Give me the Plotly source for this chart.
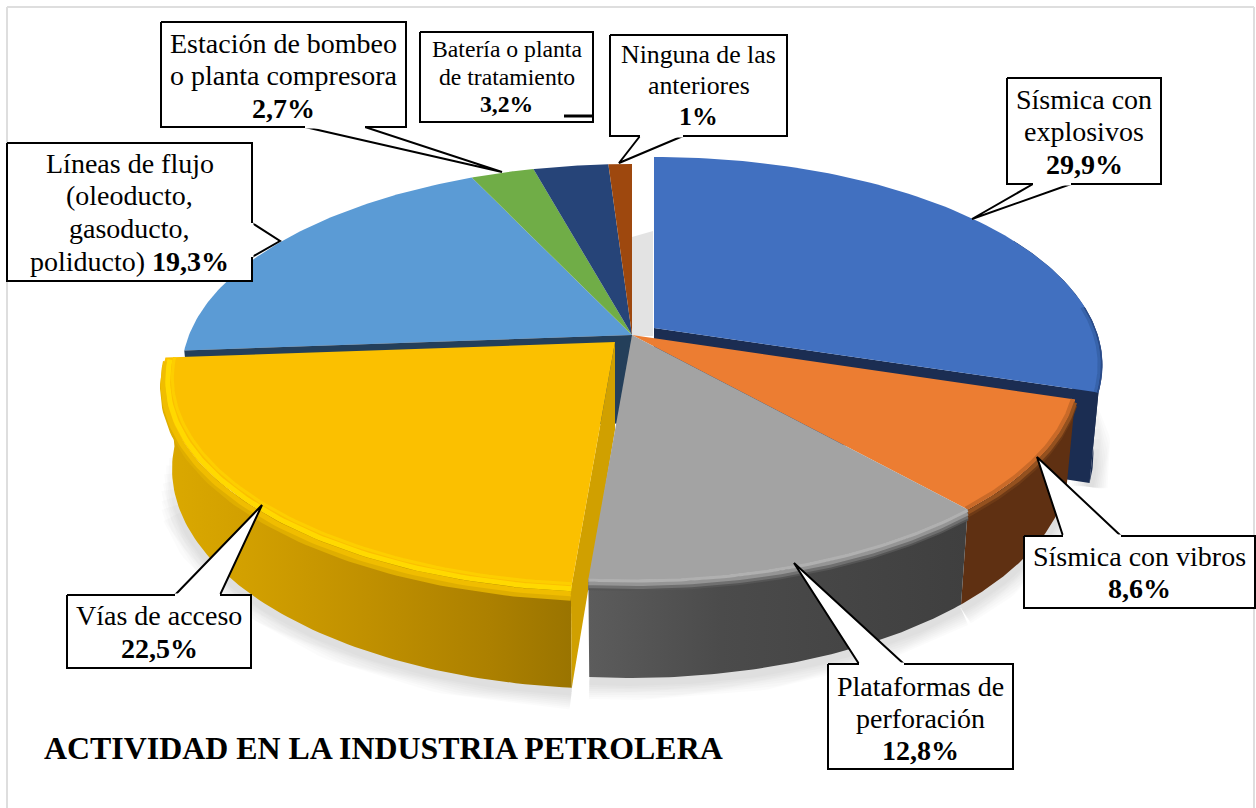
import numpy as np
import plotly.graph_objects as go

# ---- data ----
categories = ["Sísmica con explosivos", "Sísmica con vibros", "Plataformas de perforación",
              "Vías de acceso", "Líneas de flujo", "Estación de bombeo o planta compresora",
              "Batería o planta de tratamiento", "Ninguna de las anteriores"]
values = [29.9, 8.6, 12.8, 22.5, 19.3, 2.7, 3.2, 1.0]
value_labels = ["29,9%", "8,6%", "12,8%", "22,5%", "19,3%", "2,7%", "3,2%", "1%"]
title_text = "ACTIVIDAD EN LA INDUSTRIA PETROLERA"

# ---- styling / projection (not data) ----
top_colors = ["#4170c0", "#ec7d32", "#a3a3a3", "#fbc000", "#5b9bd5", "#70ad47", "#264478", "#9e480e"]
offsets = [(22, -7), (0, 0), (0, 0), (-17, 7), (0, 0), (0, 0), (0, 0), (0, 0)]
xscale = [0.996, 0.993, 0.993, 1.004, 1.0, 1.0, 1.0, 1.0]
yscale = [1.0, 1.0, 1.0, 1.015, 1.0, 1.0, 1.0, 1.0]
CX, CY = 632.0, 335.0
RX, RY, K = 443.0, 201.5, 0.178
FX, FY, DY = 0.98, 1.04, 88.0

fig = go.Figure()


def project(theta, i, radius=1.0):
    t = np.radians(theta)
    X, Y = radius * np.sin(t), -radius * np.cos(t)
    s = 1 / (1 - K * Y)
    return (CX + offsets[i][0] + xscale[i] * RX * X * s,
            CY + offsets[i][1] + yscale[i] * RY * Y * s)


def lower(x, y, i):
    ax, ay = CX + offsets[i][0], CY + offsets[i][1]
    return ax + FX * (x - ax), ay + FY * (y - ay) + DY


def poly(x, y, color=None, gradient=None, line=None, lw=0):
    kw = {}
    if gradient:
        kw["fillgradient"] = dict(type="horizontal", colorscale=gradient)
    else:
        kw["fillcolor"] = color
    fig.add_trace(go.Scatter(x=list(x) + [x[0]], y=list(y) + [y[0]], mode="lines", fill="toself",
                             line=dict(color=line or "rgba(0,0,0,0)", width=lw), hoverinfo="skip", **kw))


def stroke(x, y, color, width):
    fig.add_trace(go.Scatter(x=list(x), y=list(y), mode="lines", line=dict(color=color, width=width),
                             hoverinfo="skip"))


cum = np.concatenate([[0], np.cumsum(values)]) / np.sum(values) * 360
start, end = cum[:-1], cum[1:]


def top_face(i):
    th = np.linspace(start[i], end[i], 80)
    x, y = project(th, i)
    ax, ay = CX + offsets[i][0], CY + offsets[i][1]
    poly(np.r_[ax, x], np.r_[ay, y], top_colors[i])


def outer_wall(i, t0, t1, color=None, gradient=None):
    th = np.linspace(t0, t1, 80)
    x, y = project(th, i)
    xb, yb = lower(x, y, i)
    poly(np.r_[x, xb[::-1]], np.r_[y, yb[::-1]], color, gradient)


def cut_wall(i, theta, color):
    x, y = project(theta, i)
    xb, yb = lower(x, y, i)
    ax, ay = CX + offsets[i][0], CY + offsets[i][1]
    axb, ayb = lower(ax, ay, i)
    poly([ax, x, xb, axb], [ay, y, yb, ayb], color)


def bevel(i, t0, t1, layers):
    th = np.linspace(t0, t1, 80)
    for radius, dy, color, width in layers:
        x, y = project(th, i, radius)
        stroke(x, y + dy, color, width)


# soft shadow under the pie (wider strokes stop earlier, so the ends taper)
shadow_widths = [36, 32, 28, 24, 20, 16, 12, 8]
for n, w in enumerate(shadow_widths):
    spans = [(3, start[3], end[3] - 16 + 2 * n), (2, start[2], end[2]), (1, start[1], end[1]),
             (0, end[0] - 25 + 2.5 * n, end[0])]
    for i, t0, t1 in spans:
        th = np.linspace(t0, t1, 60)
        x, y = project(th, i)
        xb, yb = lower(x, y, i)
        stroke(xb, yb + 4, "rgba(0,0,0,0.016)", w)

# shadow seen through the gap behind the first slice
poly([632, 653, 653, 632], [237, 231, 336, 336], "#e3e3e3")

# rear slices
for i in [4, 5, 6, 7]:
    top_face(i)

# dark faces behind the pulled-out slices
cut_wall(4, start[4], "#243f5a")
outer_wall(0, 62, end[0], "#1b2d52")
cut_wall(0, end[0], "#1b2d52")
top_face(0)
bevel(0, 84, end[0], [(0.998, 0, "#2a4a86", 2), (0.993, 0, "#3763ab", 3)])

# orange slice
outer_wall(1, start[1], end[1], "#5f3012")
top_face(1)
bevel(1, start[1], end[1], [(1, 6, "#6e3a16", 4), (1, 3, "#94511f", 4), (0.995, 0, "#c96a29", 4)])

# yellow slice (drawn before the gray one, whose face overlaps its cut side)
outer_wall(3, start[3], end[3], gradient=[[0, "#dba900"], [0.2, "#d2a000"], [0.5, "#c09000"],
                                          [0.8, "#ac8000"], [1, "#9a7400"]])
cut_wall(3, start[3], "#d0a000")
top_face(3)
bevel(3, start[3], end[3], [(1, 8, "#dfae00", 6), (1, 4, "#f0bd00", 5), (0.99, 2, "#ffd900", 5),
                            (0.98, 0, "#fdce00", 3)])

# gray slice
outer_wall(2, start[2], end[2], gradient=[[0, "#5c5c5c"], [0.35, "#4b4b4b"], [1, "#3f3f3f"]])
top_face(2)
bevel(2, start[2], end[2], [(1, 9, "#555555", 4), (1, 7, "#707070", 4), (1, 4, "#959595", 4), (1, 1, "#b0b0b0", 3)])

# callouts: lines of text, first-line centre, line pitch, box and pointer
callouts = [
    (["Estación de bombeo", "o planta compresora", "<b>{}</b>"], 5, 161, 406, 22, 127, 43, 32.5,
     [(305, 127), (502, 172), (365, 127)], 28),
    (["Batería o planta", "de tratamiento", "<b>{}</b>"], 6, 420, 593, 32, 122, 49, 27.5, None, 23.7),
    (["Ninguna de las", "anteriores", "<b>{}</b>"], 7, 610, 787, 35, 136, 54, 31,
     [(640, 136), (619, 163), (683, 136)], 25.8),
    (["Sísmica con", "explosivos", "<b>{}</b>"], 0, 1007, 1161, 78, 184, 99, 32.5,
     [(1033, 184), (972, 219), (1071, 184)], 28),
    (["Sísmica con vibros", "<b>{}</b>"], 1, 1024, 1255, 536, 608, 556, 32,
     [(1063, 536), (1037, 457), (1121, 536)], 28),
    (["Plataformas de", "perforación", "<b>{}</b>"], 2, 828, 1013, 664, 769, 686, 32,
     [(859, 664), (794, 563), (904, 664)], 28),
    (["Vías de acceso", "<b>{}</b>"], 3, 67, 251, 595, 668, 615, 33,
     [(175, 595), (262, 505), (220, 595)], 28),
    (["Líneas de flujo", "(oleoducto,", "gasoducto,", "poliducto) <b>{}</b>"], 4, 7, 252, 143, 281, 163, 32.7,
     [(252, 223), (280, 241), (252, 257)], 28),
]

FONT = "Liberation Serif"
shapes, annotations = [], []
for lines, idx, x0, x1, y0, y1, first, pitch, tip, size in callouts:
    if tip:
        poly([p[0] for p in tip], [p[1] for p in tip], "#ffffff", line="#000000", lw=2)
    fig.add_trace(go.Scatter(x=[x0, x1, x1, x0, x0], y=[y0, y0, y1, y1, y0], mode="lines", fill="toself",
                             fillcolor="#ffffff", line=dict(color="#000000", width=2), hoverinfo="skip"))
    if tip:
        a, b = tip[0], tip[2]
        stroke([a[0], b[0]], [a[1], b[1]], "#ffffff", 3)
    for n, line in enumerate(lines):
        annotations.append(dict(x=(x0 + x1) / 2, y=first + n * pitch, text=line.format(value_labels[idx]),
                                showarrow=False, xanchor="center", yanchor="middle", align="center",
                                font=dict(family=FONT, size=size, color="#000000")))

stroke([564, 592], [116, 116], "#000000", 3)

annotations.append(dict(x=42, y=748, text=f"<b>{title_text}</b>", showarrow=False, xanchor="left", yanchor="middle",
                        font=dict(family=FONT, size=31.9, color="#000000")))

# frame of the chart area
for xs, ys in [([7, 7], [7, 808]), ([7, 1254], [7, 7]), ([1254, 1254], [7, 808])]:
    shapes.append(dict(type="line", x0=xs[0], x1=xs[1], y0=ys[0], y1=ys[1], layer="below",
                       line=dict(color="#dedede", width=2)))

fig.update_layout(
    width=1256, height=808, margin=dict(l=0, r=0, t=0, b=0), showlegend=False,
    paper_bgcolor="#ffffff", plot_bgcolor="#ffffff",
    xaxis=dict(range=[0, 1256], visible=False, fixedrange=True),
    yaxis=dict(range=[808, 0], visible=False, fixedrange=True),
    shapes=shapes, annotations=annotations,
)
fig.write_html("out.html", config={"displayModeBar": False},
               post_script="document.body.style.margin='0';document.body.style.overflow='hidden';")
